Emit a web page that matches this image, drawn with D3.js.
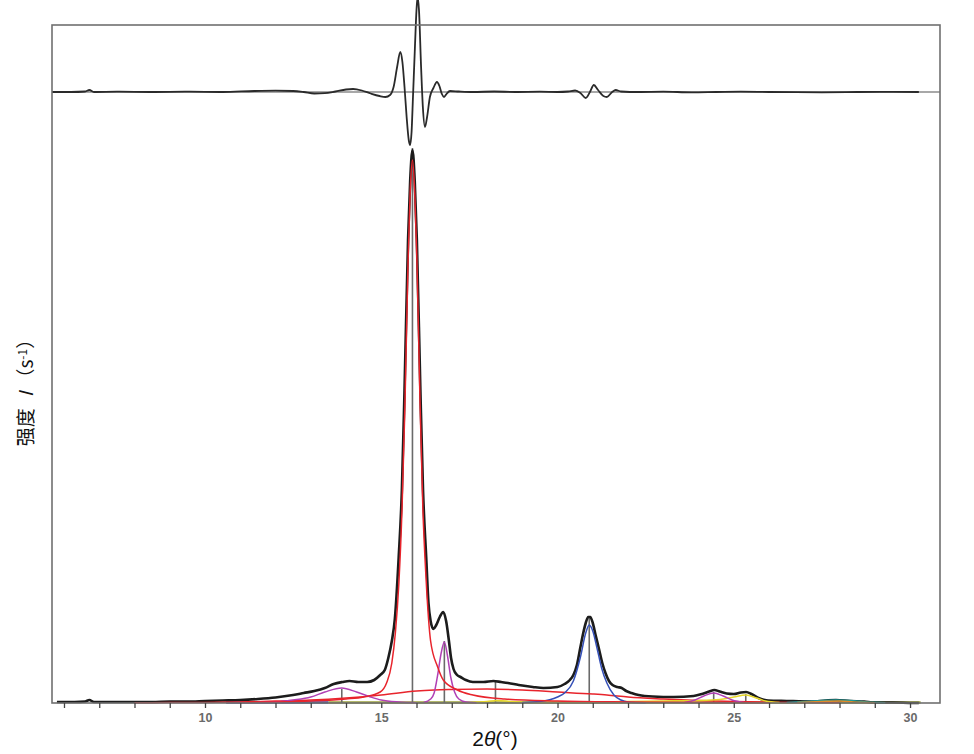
<!DOCTYPE html>
<html>
<head>
<meta charset="utf-8">
<script src="https://cdn.jsdelivr.net/npm/d3@7"></script>
<style>
  html, body { margin: 0; padding: 0; background: #fff; }
  svg { display: block; }
</style>
</head>
<body>
<svg id="chart" width="974" height="754"></svg>
<script>
// ---------------- data ----------------
const xTicks = [6,7,8,9,10,11,12,13,14,15,16,17,18,19,20,21,22,23,24,25,26,27,28,29,30];
const xTickLabels = [10, 15, 20, 25, 30];

// observed intensity
const observed = [[5.8,1],[6.3,1],[6.6,1.5],[6.72,3],[6.85,1],[7.5,1],[8.0,1],[8.5,1],[9.0,1.5],[9.5,1.5],
  [10.0,2],[10.5,2.5],[11.0,3],[11.5,4],[12.0,5.5],[12.5,8],[12.8,10],[13.1,12],[13.4,15],[13.65,19],
  [13.9,21],[14.1,22],[14.35,21],[14.6,21],[14.8,23],[14.97,28],[15.1,33],[15.2,45],[15.3,62],[15.385,84],
  [15.495,146],[15.585,213],[15.66,313],[15.76,463],[15.82,522],[15.885,553],[15.95,522],[16.01,463],
  [16.11,313],[16.185,213],[16.275,146],[16.34,100],[16.4,82],[16.48,74],[16.56,78],[16.66,86],[16.76,91],
  [16.84,82],[16.92,62],[16.98,45],[17.05,34],[17.15,28],[17.25,26],[17.4,23],[17.6,21],[17.9,21],
  [18.18,22],[18.4,21],[18.6,20],[18.9,18],[19.3,16],[19.6,15],[20.0,16],[20.2,19],[20.35,23],[20.45,28],
  [20.55,38],[20.65,56],[20.73,70],[20.8,80],[20.87,86],[20.93,86],[21.0,80],[21.08,68],[21.17,55],
  [21.27,40],[21.36,30],[21.46,22],[21.56,18],[21.7,16],[21.82,15],[21.95,12],[22.1,10],[22.3,8],
  [22.7,6.5],[23.3,6],[23.86,7],[24.1,9],[24.3,11.5],[24.45,13],[24.6,11.5],[24.8,9.5],[25.0,9],
  [25.2,10.5],[25.35,11],[25.5,9],[25.7,5],[25.97,2.5],[26.5,2],[27.2,1.5],[27.6,2.5],[27.9,3],
  [28.3,2],[28.7,1.5],[29.0,0.5],[29.5,0.5],[30.1,0],[30.25,0]];

// residual (observed - fit), drawn in the upper strip
const residual = [[5.66,0],[6.2,0],[6.6,0.5],[6.72,2],[6.85,0],[7.5,0.3],[8.5,0],[9.5,0.3],[10.5,0],
  [11.4,1],[12.0,1.3],[12.5,1],[12.8,0],[13.1,-1.5],[13.4,-1.2],[13.7,0.5],[14.0,2.5],[14.2,3],[14.45,1.5],
  [14.7,-1.5],[14.95,-4],[15.12,-5],[15.25,-3],[15.35,5],[15.45,25],[15.54,40],[15.6,30],[15.66,5],
  [15.72,-25],[15.78,-48],[15.82,-53],[15.86,-40],[15.9,-5],[15.95,40],[16.0,82],[16.03,95],[16.07,82],
  [16.13,25],[16.18,-15],[16.24,-35],[16.3,-25],[16.38,-5],[16.48,4],[16.58,10],[16.65,6],[16.72,-2],
  [16.78,-5],[16.85,-2],[16.95,1],[17.2,0.5],[17.6,0],[18.2,0.5],[18.8,0],[19.5,0.3],[20.0,0],[20.3,0.5],
  [20.5,1.5],[20.65,-1],[20.8,-6],[20.92,0],[21.03,7],[21.15,2],[21.3,-4],[21.4,-5],[21.55,0],[21.65,2],
  [21.8,0.5],[22.3,0],[23,0.3],[23.8,-0.3],[24.5,0],[25.2,0.3],[26,0],[27.5,-0.3],[28.5,0],[29.5,0.2],[30.25,0]];

// fitted components
const redMain = [[11,0.5],[12,1],[13,2],[14,4],[14.5,6],[14.97,11],[15.15,20],[15.3,40],[15.4,70],[15.5,120],
  [15.59,195],[15.67,295],[15.76,440],[15.82,510],[15.885,543],[15.95,510],[16.01,445],[16.1,300],
  [16.18,195],[16.27,125],[16.4,62],[16.6,36],[16.76,23],[17.16,13],[17.6,8],[18.5,4],[20,2],[22,1],[24,0.5],[26,0.2]];
const redBroad = [[8,0.3],[9,0.4],[10,0.6],[11,1],[12,2],[13,3],[14,5],[15,8],[16,12],[16.5,13],[17,13.5],
  [18,14],[19,13],[20,11],[21,9],[21.4,8],[22,6],[23,4],[24,2.5],[25,1.5],[26,0.8],[27,0.4],[28,0.2]];
const purpleA = [[11.5,0.5],[12,1],[12.5,3],[13,6],[13.4,11],[13.88,15],[14.3,11],[14.7,6],[15,3],[15.5,1],[16,0.3]];
const purpleB = [[16.2,0.5],[16.4,4],[16.5,10],[16.6,28],[16.7,50],[16.79,61],[16.88,47],[16.97,26],[17.08,11],[17.2,4],[17.4,1],[17.7,0.3]];
const purpleC = [[23.6,0.5],[23.9,3],[24.15,7],[24.43,10],[24.7,7],[24.95,3],[25.3,0.5]];
const blue = [[19.0,0.5],[19.5,1.5],[20.0,6],[20.2,10],[20.45,22],[20.65,46],[20.8,70],[20.9,78],[21.0,72],
  [21.12,55],[21.25,35],[21.4,20],[21.6,8],[21.8,3],[22.0,1],[22.5,0.3]];
const yellow = [[17.5,0.3],[18.0,1.5],[18.3,2.5],[18.7,1.5],[19.5,0.5],[21,0.8],[22,1.5],[23,2],[24,2.5],
  [24.6,3.5],[25.0,6],[25.34,8],[25.65,5],[25.9,2],[26.3,0.5]];
const teal = [[26.5,0.5],[27,1.5],[27.5,2.5],[27.9,3],[28.3,2.5],[28.8,1],[29.3,0.3]];
const orange = [[26.8,0.5],[27.5,1.5],[28,2],[28.4,1],[29,0.3]];
const olive = [[13.5,0.4],[30.3,0.4]];
const navy = [[10.6,0.5],[13.5,0.5]];

// peak position markers [2θ, height]
const markers = [[13.88,14],[15.885,555],[16.79,62],[18.24,21],[20.9,86],[24.43,11],[25.34,9]];

// ---------------- drawing ----------------
const svg = d3.select("#chart");
const L = 52, T = 25, R = 940, B = 703;
const RES_OFFSET = 611;

const x = d3.scaleLinear().domain([5.66, 30.85]).range([L, R]);
const y = d3.scaleLinear().domain([0, 678]).range([B, T]);

const line = d3.line().x(d => x(d[0])).y(d => y(d[1])).curve(d3.curveMonotoneX);
const resLine = d3.line().x(d => x(d[0])).y(d => y(d[1] + RES_OFFSET)).curve(d3.curveMonotoneX);

// residual zero line
svg.append("line")
  .attr("x1", L).attr("x2", R)
  .attr("y1", y(RES_OFFSET)).attr("y2", y(RES_OFFSET))
  .attr("stroke", "#a8a8a8").attr("stroke-width", 2);

// baseline segments
const base = [[olive, "#9aa03a"], [navy, "#3a4aa0"]];
base.forEach(([d, c]) => svg.append("path").datum(d).attr("d", line)
  .attr("fill", "none").attr("stroke", c).attr("stroke-width", 2.5));

// peak markers
svg.append("g").selectAll("line").data(markers).join("line")
  .attr("x1", d => x(d[0])).attr("x2", d => x(d[0]))
  .attr("y1", y(0)).attr("y2", d => y(d[1]))
  .attr("stroke", "#6a6a6a").attr("stroke-width", 1.6);

// observed
svg.append("path").datum(observed).attr("d", line)
  .attr("fill", "none").attr("stroke", "#1c1c1c").attr("stroke-width", 2.6)
  .attr("stroke-linejoin", "round");

// components
const comps = [
  [redBroad, "#e8242c"], [teal, "#1a9a98"], [orange, "#e08a2a"], [yellow, "#e6d62a"],
  [purpleA, "#b040b4"], [purpleC, "#b040b4"], [blue, "#3550b8"], [purpleB, "#b040b4"], [redMain, "#e8242c"]
];
comps.forEach(([d, c]) => svg.append("path").datum(d).attr("d", line)
  .attr("fill", "none").attr("stroke", c).attr("stroke-width", 1.5));

// residual
svg.append("path").datum(residual).attr("d", resLine)
  .attr("fill", "none").attr("stroke", "#2a2a2a").attr("stroke-width", 1.8)
  .attr("stroke-linejoin", "round");

// frame
svg.append("rect").attr("x", L).attr("y", T).attr("width", R - L).attr("height", B - T)
  .attr("fill", "none").attr("stroke", "#707070").attr("stroke-width", 1.6);

// x axis
const axis = d3.axisBottom(x).tickValues(xTicks).tickSize(5).tickPadding(5)
  .tickFormat(d => xTickLabels.includes(d) ? d : "");
const gx = svg.append("g").attr("transform", `translate(0,${B})`).call(axis);
gx.select(".domain").remove();
gx.selectAll(".tick line").attr("stroke", "#444").attr("stroke-width", 1.3);
gx.selectAll(".tick text").attr("fill", "#6a6a6a")
  .style("font-family", "'Liberation Sans', Arial, sans-serif")
  .style("font-size", "12.5px").style("font-weight", "bold");

// x label
const xl = svg.append("text").attr("x", 495).attr("y", 746).attr("text-anchor", "middle")
  .style("font-family", "'Liberation Sans', Arial, sans-serif").style("font-size", "21px").attr("fill", "#111");
xl.append("tspan").text("2");
xl.append("tspan").style("font-style", "italic").text("θ");
xl.append("tspan").text("(°)");

// y label
const yl = svg.append("text").attr("transform", "translate(33,388) rotate(-90)").attr("text-anchor", "middle")
  .style("font-family", "'Noto Sans CJK SC', 'Noto Sans', sans-serif").style("font-size", "19px").attr("fill", "#111");
yl.append("tspan").text("强度");
yl.append("tspan").attr("dx", 11).style("font-style", "italic").text("I");
yl.append("tspan").attr("dx", 4).text("（s");
yl.append("tspan").attr("dy", -6).style("font-size", "12px").text("-1");
yl.append("tspan").attr("dy", 6).text("）");
</script>
</body>
</html>
